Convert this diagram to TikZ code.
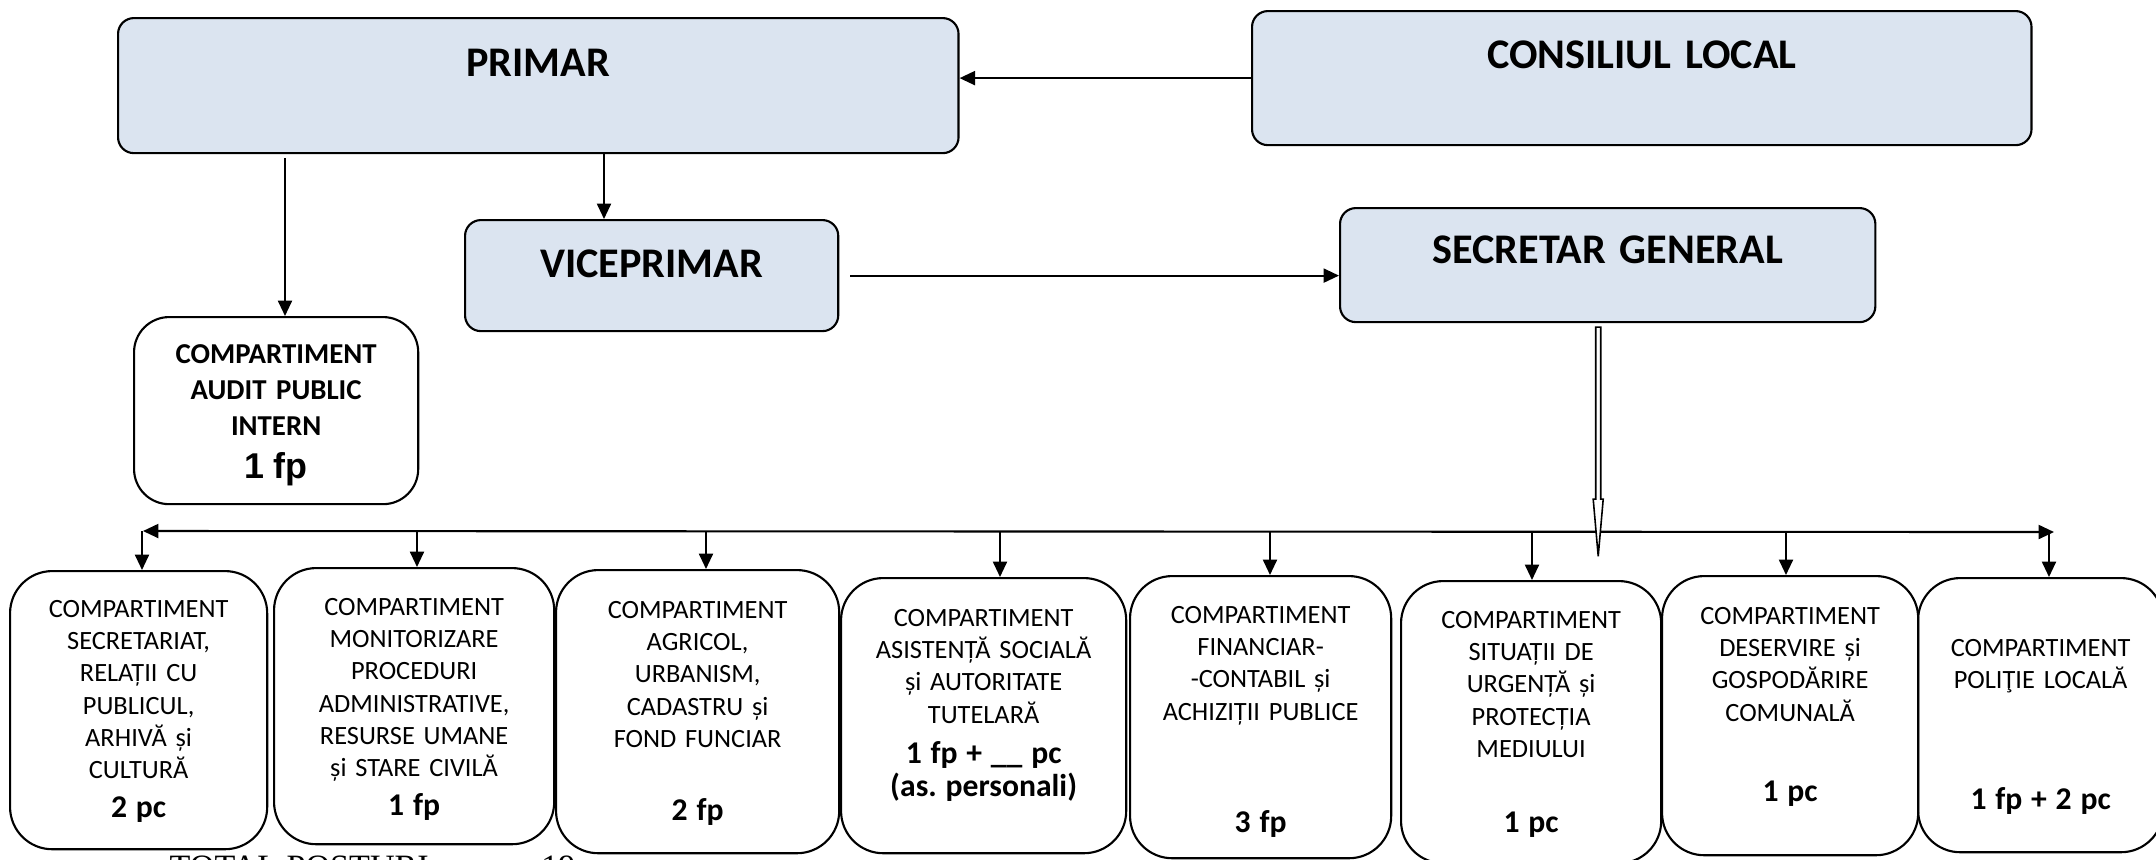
\documentclass[tikz,border=0pt]{standalone}
\usepackage{fontspec}
\setmainfont{Carlito}
\newfontfamily\arialfont{Liberation Sans}
\newfontfamily\timesfont{Liberation Serif}
\usetikzlibrary{arrows.meta,calc}
\definecolor{headblue}{RGB}{219,228,240}
\frenchspacing

\begin{document}
\begin{tikzpicture}[x=0.01cm, y=-0.01cm]
      \tikzstyle{every node}+=[inner sep=0pt]
      \tikzstyle{headbox}=[draw=black, fill=headblue, line width=0.6pt, rounded corners=4.5pt, anchor=north west, align=center, font=\bfseries\fontsize{12}{14}\selectfont]
      \tikzstyle{unitbox}=[draw=black, line width=0.6pt, rounded corners=12pt, anchor=north west, align=center, font=\fontsize{7.5}{9.2}\selectfont]
      \tikzstyle{arr}=[black, line width=0.6pt, -{Triangle[length=4.4pt, width=4pt]}]
      \tikzstyle{arrboth}=[black, line width=0.6pt, {Triangle[length=4.4pt, width=4pt]}-{Triangle[length=4.4pt, width=4pt]}]
      \path[use as bounding box, clip] (0,0) rectangle (2156,859);
      % conducere
      \node [headbox, text width=8.40cm, text height=0.58cm, text depth=0.77cm] (primar) at (117,17) {PRIMAR};
      \node [headbox, text width=7.79cm, text height=0.57cm, text depth=0.77cm] (consiliu) at (1251,10) {CONSILIUL LOCAL};
      \node [headbox, text width=3.73cm, text height=0.57cm, text depth=0.54cm] (vice) at (464,219) {VICEPRIMAR};
      \node [headbox, text width=5.35cm, text height=0.55cm, text depth=0.59cm] (secretar) at (1339,207) {SECRETAR GENERAL};
      \node [unitbox, rounded corners=10pt, font=\bfseries\fontsize{8.2}{10.2}\selectfont, text width=2.84cm, text height=0.465cm, text depth=1.405cm] (audit) at (133,316)
            {COMPARTIMENT\\ AUDIT PUBLIC\\ INTERN\\[2pt]{\arialfont\fontsize{10.2}{10.2}\selectfont 1 fp}};
      % compartimente
      \node [unitbox, text width=2.57cm, text height=0.46cm, text depth=2.32cm] (secretariat) at (9,570)
            {COMPARTIMENT\\ SECRETARIAT,\\ RELAȚII CU\\ PUBLICUL,\\ ARHIVĂ și\\ CULTURĂ\\[1.9pt]{\bfseries\fontsize{9}{9.2}\selectfont 2 pc}};
      \node [unitbox, text width=2.80cm, text height=0.47cm, text depth=2.29cm] (monitorizare) at (273,567)
            {COMPARTIMENT\\ MONITORIZARE\\ PROCEDURI\\ ADMINISTRATIVE,\\ RESURSE UMANE\\ și STARE CIVILĂ\\[1.9pt]{\bfseries\fontsize{9}{9.2}\selectfont 1 fp}};
      \node [unitbox, text width=2.83cm, text height=0.48cm, text depth=2.35cm] (agricol) at (555,569)
            {COMPARTIMENT\\ AGRICOL,\\ URBANISM,\\ CADASTRU și\\ FOND FUNCIAR\\[11.6pt]{\bfseries\fontsize{9}{9.2}\selectfont 2 fp}};
      \node [unitbox, text width=2.85cm, text height=0.48cm, text depth=2.27cm] (asistenta) at (840,577)
            {COMPARTIMENT\\ ASISTENȚĂ SOCIALĂ\\ și AUTORITATE\\ TUTELARĂ\\[2.2pt]{\bfseries\fontsize{9}{9.2}\selectfont 1 fp + \_\_ pc}\\[0.2pt]{\bfseries\fontsize{9}{9.2}\selectfont (as. personali)}};
      \node [unitbox, text width=2.61cm, text height=0.47cm, text depth=2.35cm] (financiar) at (1129,575)
            {COMPARTIMENT\\ FINANCIAR-\\ -CONTABIL și\\ ACHIZIȚII PUBLICE\\[22.7pt]{\bfseries\fontsize{9}{9.2}\selectfont 3 fp}};
      \node [unitbox, text width=2.60cm, text height=0.47cm, text depth=2.35cm] (urgenta) at (1400,580)
            {COMPARTIMENT\\ SITUAȚII DE\\ URGENȚĂ și\\ PROTECȚIA\\ MEDIULUI\\[12.1pt]{\bfseries\fontsize{9}{9.2}\selectfont 1 pc}};
      \node [unitbox, text width=2.56cm, text height=0.48cm, text depth=2.31cm] (deservire) at (1661,575)
            {COMPARTIMENT\\ DESERVIRE și\\ GOSPODĂRIRE\\ COMUNALĂ\\[13.6pt]{\bfseries\fontsize{9}{9.2}\selectfont 1 pc}};
      \node [unitbox, text width=2.45cm, text height=0.78cm, text depth=1.96cm] (politie) at (1917,577)
            {COMPARTIMENT\\ POLIŢIE LOCALĂ\\[25.2pt]{\bfseries\fontsize{9}{9.2}\selectfont 1 fp + 2 pc}};
      \node [anchor=base west, font=\timesfont\fontsize{9.7}{10}\selectfont] (total) at (169,878) {TOTAL POSTURI\hspace{32pt}19};
      % legaturi
      \draw [arr] (consiliu.west) -- (consiliu.west -| primar.east);
      \coordinate (pa) at (285,158);
      \draw [arr] (pa) -- (pa |- audit.north);
      \coordinate (pv) at (604,152);
      \draw [arr] (pv) -- (pv |- vice.north);
      \draw [arr, shorten <=0.11cm] (vice.east) -- (vice.east -| secretar.west);
      \coordinate (busW) at (143,531);
      \coordinate (busE) at (2054,532);
      \draw [arrboth] (busW) -- (busE);
      \coordinate (t1) at (142,531);
      \draw [arr] (t1) -- (t1 |- secretariat.north);
      \coordinate (t2) at (417,531);
      \draw [arr] (t2) -- (t2 |- monitorizare.north);
      \coordinate (t3) at (706,531);
      \draw [arr] (t3) -- (t3 |- agricol.north);
      \coordinate (t4) at (1000,531);
      \draw [arr] (t4) -- (t4 |- asistenta.north);
      \coordinate (t5) at (1270,531);
      \draw [arr] (t5) -- (t5 |- financiar.north);
      \coordinate (t6) at (1532,531);
      \draw [arr] (t6) -- (t6 |- urgenta.north);
      \coordinate (t7) at (1786,532);
      \draw [arr] (t7) -- (t7 |- deservire.north);
      \coordinate (t8) at (2049,532);
      \draw [arr] (t8) -- (t8 |- politie.north);
      % sageata dubla de la secretar
      \coordinate (sg) at ($(secretar.south)+(-9.5,4)$);
      \draw [black, line width=0.45pt, fill=white] ($(sg)+(-2.5,0)$) -- ++(5,0) -- ++(0,172) -- ++(2.5,0) -- ++(-5,57) -- ++(-5,-57) -- ++(2.5,0) -- cycle;
\end{tikzpicture}
\end{document}
